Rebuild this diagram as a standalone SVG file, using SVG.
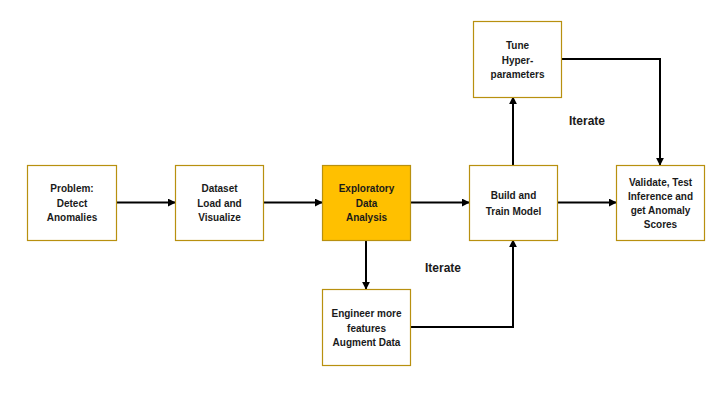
<svg xmlns="http://www.w3.org/2000/svg" width="720" height="405" viewBox="0 0 720 405">
<style>
.box{fill:#ffffff;stroke:#B8900F;stroke-width:1.2}
.hl{fill:#FFC000;stroke:#B8900F;stroke-width:1.2}
text{font-family:"Liberation Sans",Arial,sans-serif;font-size:10px;font-weight:bold;fill:#1a1a1a;text-anchor:middle}
.lbl{font-size:12px}
.c{fill:none;stroke:#000;stroke-width:2}
</style>
<defs>
<marker id="ah" viewBox="0 0 10 10" refX="9" refY="5" markerWidth="4" markerHeight="4" orient="auto" markerUnits="strokeWidth">
<path d="M0,0 L10,5 L0,10 z" fill="#000"/>
</marker>
</defs>
<rect width="720" height="405" fill="#ffffff"/>
<g id="connectors">
<line class="c" x1="117" y1="202.5" x2="175" y2="202.5" marker-end="url(#ah)"/>
<line class="c" x1="263" y1="202.5" x2="322" y2="202.5" marker-end="url(#ah)"/>
<line class="c" x1="411" y1="202.5" x2="469" y2="202.5" marker-end="url(#ah)"/>
<line class="c" x1="557" y1="202.5" x2="616" y2="202.5" marker-end="url(#ah)"/>
<line class="c" x1="366" y1="240" x2="366" y2="289" marker-end="url(#ah)"/>
<polyline class="c" points="411,327 513,327 513,240" marker-end="url(#ah)"/>
<line class="c" x1="513" y1="165" x2="513" y2="97" marker-end="url(#ah)"/>
<polyline class="c" points="561,59 660,59 660,165" marker-end="url(#ah)"/>
<text class="lbl" x="587" y="125">Iterate</text>
<text class="lbl" x="443" y="272">Iterate</text>
</g>
<g id="problem">
<rect class="box" x="27.5" y="165.5" width="89" height="75"/>
<text x="72" y="192">Problem:</text>
<text x="72" y="206.5">Detect</text>
<text x="72" y="221">Anomalies</text>
</g>
<g id="dataset">
<rect class="box" x="175.5" y="165.5" width="88" height="75"/>
<text x="219.5" y="192">Dataset</text>
<text x="219.5" y="206.5">Load and</text>
<text x="219.5" y="221">Visualize</text>
</g>
<g id="eda">
<rect class="hl" x="322.5" y="165.5" width="88" height="75"/>
<text x="366.5" y="192">Exploratory</text>
<text x="366.5" y="206.5">Data</text>
<text x="366.5" y="221">Analysis</text>
</g>
<g id="build">
<rect class="box" x="469.5" y="165.5" width="88" height="75"/>
<text x="513.5" y="199">Build and</text>
<text x="513.5" y="214.5">Train Model</text>
</g>
<g id="validate">
<rect class="box" x="616.5" y="165.5" width="88" height="75"/>
<text x="660.5" y="185.5">Validate, Test</text>
<text x="660.5" y="199.5">Inference and</text>
<text x="660.5" y="213.5">get Anomaly</text>
<text x="660.5" y="227.5">Scores</text>
</g>
<g id="engineer">
<rect class="box" x="322.5" y="289.5" width="88" height="76"/>
<text x="366.5" y="316.5">Engineer more</text>
<text x="366.5" y="331.5">features</text>
<text x="366.5" y="345.5">Augment Data</text>
</g>
<g id="tune">
<rect class="box" x="473.5" y="21.5" width="88" height="76"/>
<text x="517.5" y="49">Tune</text>
<text x="517.5" y="63.5">Hyper-</text>
<text x="517.5" y="78">parameters</text>
</g>
</svg>
